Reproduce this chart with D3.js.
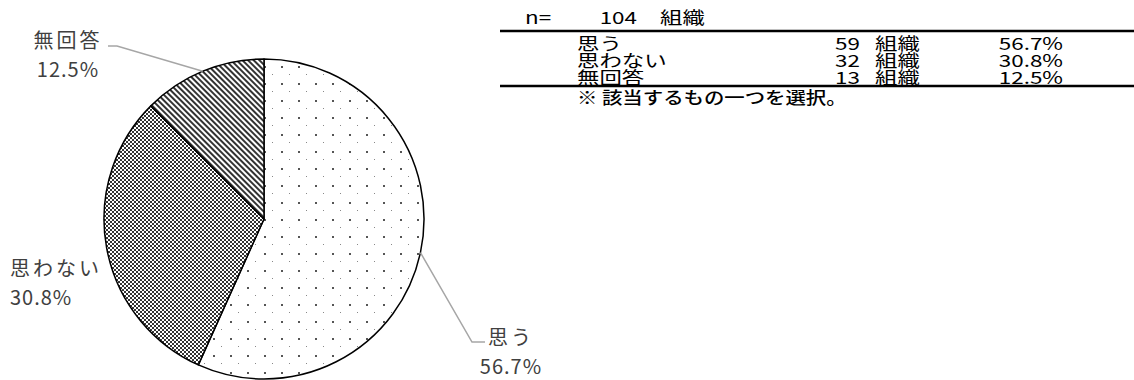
<!DOCTYPE html>
<html>
<head>
<meta charset="utf-8">
<script src="https://cdn.jsdelivr.net/npm/d3@7"></script>
<style>
  body { margin: 0; background: #fff; }
  svg text { font-family: "Noto Sans CJK JP", "Noto Sans", sans-serif; }
</style>
</head>
<body>
<svg id="chart"></svg>
<script>
// data
const categories = ["思う", "思わない", "無回答"];
const counts = [59, 32, 13];
const percents = ["56.7%", "30.8%", "12.5%"];
const total = 104;
const unit = "組織";
const note = "※ 該当するもの一つを選択。";

const width = 1134, height = 380;
const cx = 264, cy = 219, radius = 160;

const svg = d3.select("#chart")
  .attr("width", width)
  .attr("height", height);

// fill patterns
const defs = svg.append("defs");

const dots = defs.append("pattern")
  .attr("id", "pat-dots")
  .attr("patternUnits", "userSpaceOnUse")
  .attr("width", 17).attr("height", 17);
dots.append("rect").attr("width", 17).attr("height", 17).attr("fill", "#fff");
dots.append("rect").attr("x", 0).attr("y", 0).attr("width", 2).attr("height", 2).attr("fill", "#555");
dots.append("rect").attr("x", 8).attr("y", 8).attr("width", 1).attr("height", 1).attr("fill", "#888");

const checker = defs.append("pattern")
  .attr("id", "pat-check")
  .attr("patternUnits", "userSpaceOnUse")
  .attr("width", 4).attr("height", 4);
checker.append("rect").attr("width", 4).attr("height", 4).attr("fill", "#fff");
checker.append("rect").attr("width", 2).attr("height", 2).attr("fill", "#333");
checker.append("rect").attr("x", 2).attr("y", 2).attr("width", 2).attr("height", 2).attr("fill", "#333");

const stripes = defs.append("pattern")
  .attr("id", "pat-stripe")
  .attr("patternUnits", "userSpaceOnUse")
  .attr("width", 4).attr("height", 4)
  .attr("patternTransform", "rotate(-45)");
stripes.append("rect").attr("width", 4).attr("height", 4).attr("fill", "#fff");
stripes.append("rect").attr("width", 2).attr("height", 4).attr("fill", "#333");

const fills = ["url(#pat-dots)", "url(#pat-check)", "url(#pat-stripe)"];

// pie
const pie = d3.pie().sort(null).value(d => d.count);
const arc = d3.arc().innerRadius(0).outerRadius(radius);
const rows = categories.map((c, i) => ({name: c, count: counts[i], pct: percents[i]}));
const arcs = pie(rows);

const g = svg.append("g").attr("transform", `translate(${cx},${cy})`);

g.selectAll("path.slice")
  .data(arcs)
  .enter()
  .append("path")
    .attr("class", "slice")
    .attr("d", arc)
    .attr("fill", (d, i) => fills[i])
    .attr("stroke", "#000")
    .attr("stroke-width", 1.5)
    .attr("stroke-linejoin", "round");

// label layout (relative to pie centre): label x, first line y, leader elbow
const labelPos = [
  {x: 247, y: 117, anchor: "middle", elbow: [208, 123], end: [221, 123]},
  {x: -254, y: 48, anchor: "start", elbow: null},
  {x: -196, y: -180, anchor: "middle", elbow: [-147, -173], end: [-156, -173]}
];
const midPoint = d => {
  const a = (d.startAngle + d.endAngle) / 2;
  return [radius * Math.sin(a), -radius * Math.cos(a)];
};

arcs.forEach((d, i) => {
  const p = labelPos[i];
  if (p.elbow) {
    g.append("polyline")
      .attr("points", [midPoint(d), p.elbow, p.end].map(q => q.join(",")).join(" "))
      .attr("fill", "none")
      .attr("stroke", "#a6a6a6")
      .attr("stroke-width", 1.5);
  }
  const t = g.append("text")
    .attr("text-anchor", p.anchor)
    .attr("font-size", "20px")
    .attr("fill", "#404040");
  t.append("tspan").attr("x", p.x).attr("y", p.y).attr("dominant-baseline", "central")
    .attr("letter-spacing", "3px").text(d.data.name);
  t.append("tspan").attr("x", p.x).attr("y", p.y + 29).attr("dominant-baseline", "central")
    .attr("letter-spacing", "1px").text(d.data.pct);
});

// summary table on the right (text is drawn wide, as in the original)
const table = svg.append("g").attr("font-size", "17px").attr("fill", "#000");
const rowY = d3.scalePoint().domain(categories).range([43, 77]);

function cell(parent, x, y, txt, anchor, sx) {
  return parent.append("text")
    .attr("transform", `translate(${x},${y}) scale(${sx || 1.32},1)`)
    .attr("text-anchor", anchor || "start")
    .attr("dominant-baseline", "central")
    .text(txt);
}

cell(table, 525, 17, "n=");
cell(table, 637, 17, total, "end");
cell(table, 660, 17, unit);

table.append("line").attr("x1", 500).attr("x2", width).attr("y1", 31).attr("y2", 31)
  .attr("stroke", "#000").attr("stroke-width", 2.5);

rows.forEach(d => {
  const y = rowY(d.name);
  cell(table, 577, y, d.name);
  cell(table, 860, y, d.count, "end");
  cell(table, 875, y, unit);
  cell(table, 1063, y, d.pct, "end");
});

table.append("line").attr("x1", 500).attr("x2", width).attr("y1", 86).attr("y2", 86)
  .attr("stroke", "#000").attr("stroke-width", 2.5);
cell(table, 577, 96, note, "start", 1.2).attr("font-size", "17px").attr("font-weight", "500");
</script>
</body>
</html>
